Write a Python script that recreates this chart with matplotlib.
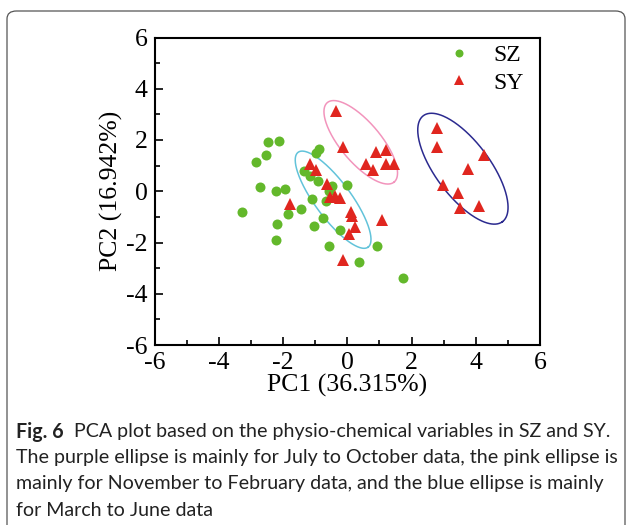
import numpy as np
import matplotlib
matplotlib.use("Agg")
import matplotlib.pyplot as plt
from matplotlib.patches import FancyBboxPatch
from matplotlib.ticker import MultipleLocator

plt.rcParams["axes.unicode_minus"] = False

# ---------------- data ----------------
sz_x = [-2.48, -2.11, -2.52, -2.85, -0.89, -0.97, -1.34, -1.17, -0.90, -0.46,
        -0.01, -2.72, -2.23, -1.95, -0.58, -0.65, -1.09, -3.28, -1.44, -1.84,
        -0.75, -2.20, -1.03, -0.24, -2.23, -0.57, 0.36, 0.92, 1.74]
sz_y = [1.93, 1.97, 1.42, 1.15, 1.63, 1.50, 0.79, 0.59, 0.39, 0.21,
        0.24, 0.17, 0.02, 0.09, 0.01, -0.37, -0.30, -0.81, -0.69, -0.88,
        -1.05, -1.26, -1.37, -1.51, -1.91, -2.12, -2.76, -2.14, -3.40]

sy_x = [-0.35, -0.12, 0.90, 1.21, 0.59, 0.79, 1.21, 1.44,
        -1.17, -0.97, -0.63, -0.54, -0.38, -0.22, 0.11, 0.14, 0.25, 0.05,
        -1.78, 1.09, -0.13,
        2.79, 2.79, 4.27, 3.75, 2.98, 3.46, 3.50, 4.11]
sy_y = [3.14, 1.73, 1.52, 1.60, 1.08, 0.82, 1.05, 1.08,
        1.08, 0.82, 0.29, -0.21, -0.19, -0.25, -0.81, -0.98, -1.38, -1.65,
        -0.51, -1.11, -2.70,
        2.45, 1.73, 1.41, 0.86, 0.23, -0.07, -0.64, -0.57]

# ellipses: centre (data) and two semi-axis vectors (data units)
ell_names = ["pink", "blue", "purple"]
ell_cx = [0.42, -0.44, 3.60]
ell_cy = [1.91, -0.33, 0.88]
ell_major = [(1.04, -1.55), (1.09, -1.85), (1.23, -2.07)]
ell_minor = [(-0.48, -0.50), (-0.45, -0.42), (-0.68, -0.63)]
ell_colors = ["#F294BC", "#62C3DA", "#2B2A8F"]

x_label = "PC1 (36.315%)"
y_label = "PC2 (16.942%)"
ticks = [-6, -4, -2, 0, 2, 4, 6]
series_names = ["SZ", "SY"]

caption_lines = [
    ("Fig. 6", "  PCA plot based on the physio-chemical variables in SZ and SY."),
    ("", "The purple ellipse is mainly for July to October data, the pink ellipse is"),
    ("", "mainly for November to February data, and the blue ellipse is mainly"),
    ("", "for March to June data"),
]

# ---------------- figure ----------------
W, H = 627, 525
fig = plt.figure(figsize=(W / 100, H / 100), dpi=100)

# outer rounded frame (bottom runs off the image)
frame = FancyBboxPatch((7 / W, -20 / H), (618 / W), (534 / H),
                       boxstyle="round,pad=0,rounding_size=0.015",
                       transform=fig.transFigure, facecolor="none",
                       edgecolor="#555555", linewidth=0.9, zorder=-5)
fig.patches.append(frame)

ax = fig.add_axes([154.5 / W, 1 - 345 / H, (540 - 154.5) / W, (345 - 37.5) / H])
ax.set_xlim(-6, 6)
ax.set_ylim(-6, 6)
ax.set_xticks(ticks)
ax.set_yticks(ticks)
ax.xaxis.set_minor_locator(MultipleLocator(1))
ax.yaxis.set_minor_locator(MultipleLocator(1))
ax.tick_params(which="both", direction="in", top=False, right=False, width=1.2)
ax.tick_params(which="major", length=6, labelsize=18.5, pad=5)
ax.tick_params(which="minor", length=3.5)
for lab in ax.get_xticklabels() + ax.get_yticklabels():
    lab.set_fontfamily("Liberation Serif")
for s in ax.spines.values():
    s.set_linewidth(1.5)

ax.set_xlabel(x_label, fontfamily="Liberation Serif", fontsize=18.5, labelpad=0)
ax.set_ylabel(y_label, fontfamily="Liberation Serif", fontsize=18.5, labelpad=2)

ax.plot(sz_x, sz_y, "o", color="#63B82B", markersize=7.2, markeredgewidth=0,
        label=series_names[0], zorder=3)
ax.plot(sy_x, sy_y, "^", color="#E0261F", markersize=9, markeredgewidth=0,
        label=series_names[1], zorder=4)

t = np.linspace(0, 2 * np.pi, 300)
for cx, cy, mj, mn, col in zip(ell_cx, ell_cy, ell_major, ell_minor, ell_colors):
    ex = cx + mj[0] * np.cos(t) + mn[0] * np.sin(t)
    ey = cy + mj[1] * np.cos(t) + mn[1] * np.sin(t)
    ax.plot(ex, ey, color=col, linewidth=1.1, zorder=2)

leg = ax.legend(loc="upper left", bbox_to_anchor=(0.760, 0.976), frameon=False,
                prop={"family": "Liberation Serif", "size": 17},
                borderpad=0, borderaxespad=0,
                handletextpad=0.98, labelspacing=0.24, handlelength=0.97,
                markerscale=0.8)

# caption
ys = [432, 458, 484, 510]
cap_size = 14.1
for (bold, rest), yy in zip(caption_lines, ys):
    x0 = 16 / W
    if bold:
        tb = fig.text(x0, 1 - yy / H, bold, fontfamily="Lato", fontweight="bold",
                      fontsize=cap_size, va="center", ha="left", color="#222222")
        fig.canvas.draw()
        bb = tb.get_window_extent()
        x0 = bb.x1 / W
    fig.text(x0, 1 - yy / H, rest, fontfamily="Lato", fontsize=cap_size,
             va="center", ha="left", color="#222222")

fig.savefig("out.png", dpi=100)
